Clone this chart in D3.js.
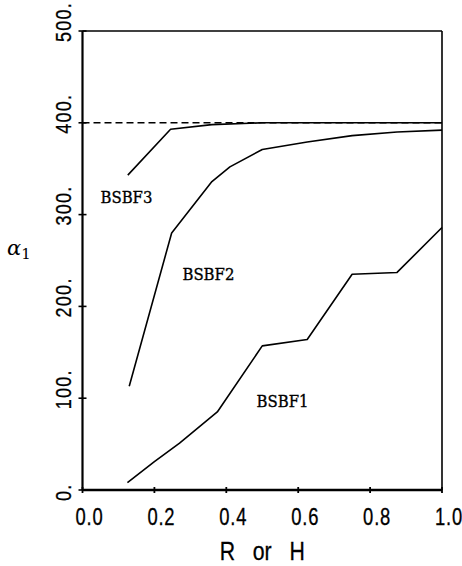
<!DOCTYPE html>
<html><head><meta charset="utf-8">
<script src="https://cdn.jsdelivr.net/npm/d3@7"></script>
<style>body{margin:0;background:#fff}svg{display:block}</style>
</head><body>
<svg id="c" width="462" height="566"></svg>
<script>
const xTicks = [0, 0.2, 0.4, 0.6, 0.8, 1.0];
const xTickLabels = ["0.0", "0.2", "0.4", "0.6", "0.8", "1.0"];
const yTicks = [0, 100, 200, 300, 400, 500];
const yTickLabels = ["0.", "100.", "200.", "300.", "400.", "500."];
const seriesNames = ["BSBF1", "BSBF2", "BSBF3"];
const bsbf1 = [[0.125, 8], [0.2, 31], [0.27, 51], [0.375, 85], [0.5, 157], [0.625, 164], [0.75, 235], [0.875, 237], [1.0, 286]];
const bsbf2 = [[0.13, 113], [0.248, 280], [0.36, 336], [0.41, 352], [0.5, 371], [0.625, 379], [0.75, 386], [0.875, 390], [1.0, 392]];
const bsbf3 = [[0.126, 343], [0.245, 393], [0.36, 398], [0.5, 400], [1.0, 400]];
const limitValue = 400;
const labelPos = [[0.484, 90], [0.278, 229], [0.05, 313]];

const svg = d3.select("#c");
const x = d3.scaleLinear().domain([0, 1]).range([82.5, 442]);
const y = d3.scaleLinear().domain([0, 500]).range([490, 31]);
const tickFont = "'Liberation Sans', Arial, sans-serif";

// frame
svg.append("line").attr("x1", x(0)).attr("x2", x(1)).attr("y1", y(500)).attr("y2", y(500)).attr("stroke", "#000").attr("stroke-width", 1.6);
svg.append("line").attr("x1", x(1)).attr("x2", x(1)).attr("y1", y(500)).attr("y2", y(0)).attr("stroke", "#000").attr("stroke-width", 1.6);
svg.append("line").attr("x1", x(0)).attr("x2", x(1)).attr("y1", y(0)).attr("y2", y(0)).attr("stroke", "#000").attr("stroke-width", 2.4);
svg.append("line").attr("x1", x(0)).attr("x2", x(0)).attr("y1", y(500)).attr("y2", y(0)).attr("stroke", "#000").attr("stroke-width", 2.2);

// ticks (small crosses)
xTicks.forEach(t => {
  svg.append("line").attr("x1", x(t)).attr("x2", x(t)).attr("y1", y(0) - 3).attr("y2", y(0) + 3).attr("stroke", "#000").attr("stroke-width", 1.8);
});
yTicks.forEach(t => {
  svg.append("line").attr("x1", x(0) - 4).attr("x2", x(0) + 4).attr("y1", y(t)).attr("y2", y(t)).attr("stroke", "#000").attr("stroke-width", 1.6);
});

// tick labels
xTicks.forEach((t, i) => {
  svg.append("text").attr("transform", `translate(${x(t) - 7},525) scale(0.8,1)`)
    .attr("font-family", tickFont).attr("font-size", 23).attr("letter-spacing", 1)
    .attr("stroke", "#000").attr("stroke-width", 0.3)
    .text(xTickLabels[i]);
});
yTicks.forEach((t, i) => {
  svg.append("text").attr("transform", `translate(70.5,${y(t) + 11}) rotate(-90) scale(0.82,1)`)
    .attr("font-family", tickFont).attr("font-size", 22).attr("letter-spacing", 1.5)
    .attr("stroke", "#000").attr("stroke-width", 0.3)
    .text(yTickLabels[i]);
});

// axis titles
svg.append("text").attr("transform", `translate(${(x(0) + x(1)) / 2},560) scale(0.85,1)`)
  .attr("text-anchor", "middle").attr("font-family", tickFont).attr("font-size", 25)
  .attr("word-spacing", 14).attr("stroke", "#000").attr("stroke-width", 0.3).text("R or H");
const yl = svg.append("text").attr("x", 7).attr("y", 255).attr("font-family", "'DejaVu Serif', serif").attr("font-size", 21).attr("font-style", "italic");
yl.append("tspan").text("α");
yl.append("tspan").attr("font-size", 15).attr("font-style", "normal").attr("dy", 4).text("1");

// dashed limit
svg.append("line").attr("x1", x(0)).attr("x2", x(1)).attr("y1", y(limitValue)).attr("y2", y(limitValue))
  .attr("stroke", "#000").attr("stroke-width", 1.6).attr("stroke-dasharray", "7,4");

// curves
const line = d3.line().x(d => x(d[0])).y(d => y(d[1]));
[bsbf1, bsbf2, bsbf3].forEach(s => {
  svg.append("path").attr("d", line(s)).attr("fill", "none").attr("stroke", "#000").attr("stroke-width", 1.6).attr("stroke-linejoin", "round");
});

// series labels
seriesNames.forEach((n, i) => {
  svg.append("text").attr("x", x(labelPos[i][0])).attr("y", y(labelPos[i][1]))
    .attr("font-family", "'DejaVu Serif', 'Liberation Serif', serif").attr("font-size", 16.5)
    .attr("stroke", "#000").attr("stroke-width", 0.35)
    .attr("textLength", 52).attr("lengthAdjust", "spacingAndGlyphs")
    .text(n);
});
</script>
</body></html>
